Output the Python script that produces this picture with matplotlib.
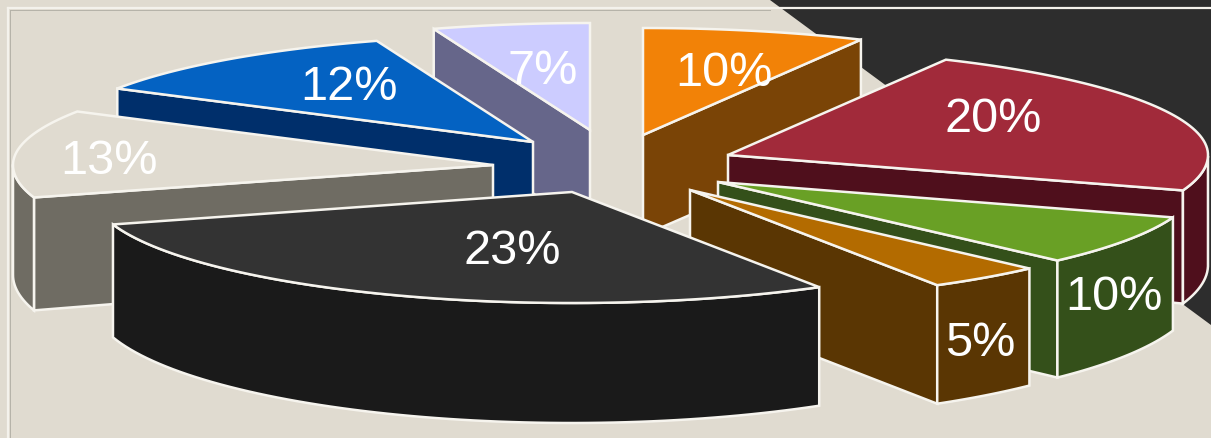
import matplotlib
matplotlib.use('Agg')
import matplotlib.pyplot as plt
import numpy as np

plt.rcParams['font.family'] = ['Liberation Sans', 'DejaVu Sans']

# slices clockwise from 12 o'clock
values = [10, 20, 10, 5, 23, 13, 12, 7]
top_colors = ['#F28207', '#A12A3A', '#69A025', '#B36B00', '#333333', '#E0DBD0', '#0462C2', '#CCCCFF']
wall_colors = ['#7A4406', '#4F0F1C', '#34501A', '#5A3603', '#1A1A1A', '#6F6C63', '#002F6B', '#66668A']

# pull out of each slice from the pie centre, in pixels
pull_x = [28, 113, 103, 75, -43, -122, -82, -25]
pull_y = [-32, -12, 15, 23, 25, -2, -25, -37]
# painter order, back to front
order = [7, 0, 6, 1, 5, 2, 3, 4]

# label centres
label_x = [724, 993, 1114, 980, 512, 109, 349, 543]
label_y = [74, 119, 298, 344, 252, 162, 88, 72]

bg = '#E0DBD0'
cx, cy = 615, 167

# the 3d view moves angles around the ellipse, degrees in -> degrees on screen
view_in = [0, 36, 108, 144, 162, 244.8, 291.6, 334.8, 360]
view_out = [0, 27, 108.6, 135, 149, 253, 300, 341, 360]


def rim(theta):
    phi = np.radians(np.interp(np.degrees(theta), view_in, view_out))
    c = np.cos(phi)
    return 480 * np.sin(phi), np.where(c > 0, -107 * c, -111 * c)


def depth(theta):
    phi = np.radians(np.interp(np.degrees(theta), view_in, view_out))
    return 110 - 10 * np.cos(phi)


fig = plt.figure(figsize=(12.11, 4.38), dpi=100, facecolor=bg)
ax = fig.add_axes([0, 0, 1, 1])
ax.set_xlim(0, 1211)
ax.set_ylim(438, 0)
ax.axis('off')

# dark corner and frame
ax.fill([770, 1211, 1211], [0, 0, 325], color='#2D2D2D', lw=0, zorder=1)
ax.plot([8, 1211], [8, 8], color='#F4F2EC', lw=1.6, zorder=1)
ax.plot([8, 8], [8, 438], color='#F4F2EC', lw=1.6, zorder=1)
ax.plot([10, 770], [10, 10], color='#B5B2A8', lw=0.7, zorder=1)
ax.plot([10, 10], [10, 438], color='#B5B2A8', lw=0.7, zorder=1)

edges = np.radians(np.cumsum([0] + values) * 3.6)
lw = 1.8
white = '#F6F4EE'

for z, i in enumerate(order):
    t = np.linspace(edges[i], edges[i + 1], max(8, values[i] * 3))
    rx, ry = rim(t)
    ax0 = cx + pull_x[i]
    ay0 = cy + pull_y[i]
    px = ax0 + rx
    py = ay0 + ry
    d = depth(t)
    base = 2 + z * 2

    # radial wall on the start side, then rim wall, then end side wall
    if px[0] < ax0:
        ax.fill([ax0, px[0], px[0], ax0], [ay0, py[0], py[0] + d[0], ay0 + d.mean()],
                facecolor=wall_colors[i], edgecolor=white, lw=lw, zorder=base)
    if px[-1] > ax0:
        ax.fill([ax0, px[-1], px[-1], ax0], [ay0, py[-1], py[-1] + d[-1], ay0 + d.mean()],
                facecolor=wall_colors[i], edgecolor=white, lw=lw, zorder=base)

    vis = np.diff(px) < 0
    if vis.any():
        idx = np.where(vis)[0]
        a, b = idx[0], idx[-1] + 2
        ax.fill(np.r_[px[a:b], px[a:b][::-1]], np.r_[py[a:b], (py + d)[a:b][::-1]],
                facecolor=wall_colors[i], edgecolor=white, lw=lw, zorder=base)

    ax.fill(np.r_[ax0, px], np.r_[ay0, py], facecolor=top_colors[i], edgecolor=white,
            lw=lw, joinstyle='miter', zorder=base + 1)

for v, x, y in zip(values, label_x, label_y):
    ax.text(x, y, f'{v}%', color='white', fontsize=35, ha='center', va='center', zorder=40)

fig.savefig('out.png', dpi=100, facecolor=bg)
